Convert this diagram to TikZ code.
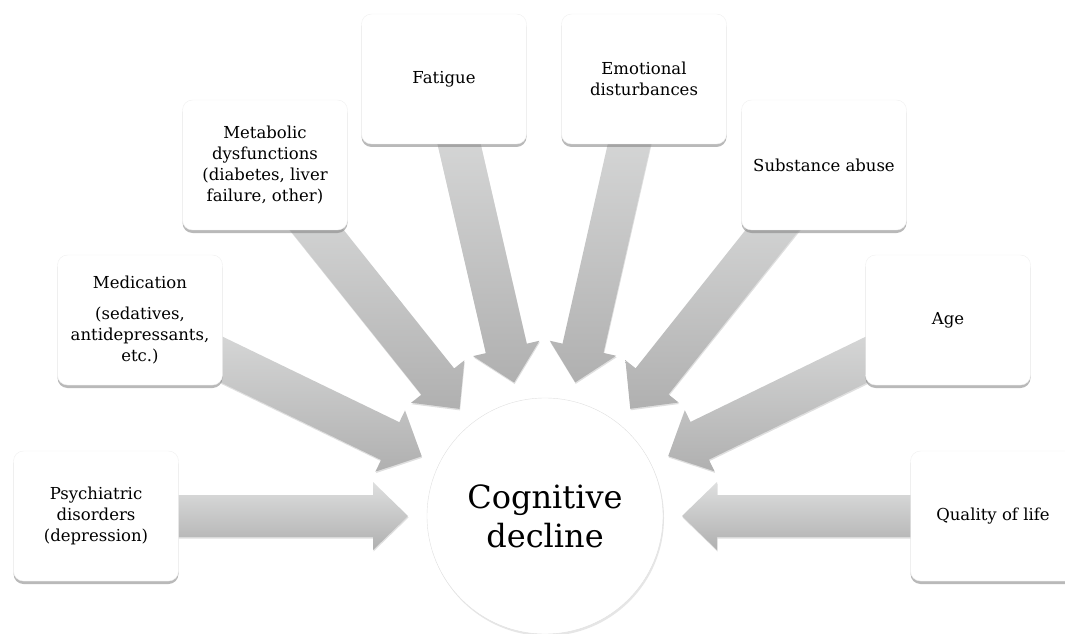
\documentclass[tikz,border=0pt]{standalone}
\usepackage{fontspec}
\setmainfont{DejaVu Serif}
\usetikzlibrary{calc,shadows,backgrounds}

\definecolor{pfeilhell}{RGB}{222,223,223}
\definecolor{pfeildunkel}{RGB}{176,176,176}

\begin{document}
\begin{tikzpicture}[x=1pt,y=1pt,
		kasten/.style={draw=black!6, fill=white, rounded corners=10pt,
			minimum width=165pt, minimum height=130pt, align=center,
			font=\fontsize{16.5}{21}\selectfont,
			drop shadow={shadow xshift=0pt, shadow yshift=-3pt, opacity=0.55}},
		kreis/.style={circle, draw=black!12, fill=white, minimum size=236pt,
			inner sep=0pt, align=center, font=\fontsize{32}{39}\selectfont,
			drop shadow={shadow xshift=1pt, shadow yshift=-2pt, opacity=0.2}},
		pfeil/.style={top color=pfeilhell, bottom color=pfeildunkel,
			drop shadow={shadow xshift=0.5pt, shadow yshift=-1.5pt, opacity=0.25}}]
			\useasboundingbox (0,0) rectangle (1065,633);
			% Kreis in der Mitte
			\node[kreis] (cog) at (545,117) {Cognitive\\decline};
			% Linke Kaesten
			\node[kasten] (psy) at (96,117) {Psychiatric\\disorders\\(depression)};
			\node[kasten] (med) at (140,313) {Medication\\[10pt](sedatives,\\antidepressants,\\etc.)};
			\node[kasten] (meta) at (265,468) {Metabolic\\dysfunctions\\(diabetes, liver\\failure, other)};
			\node[kasten] (fat) at (444,554) {Fatigue};
			% Rechte Kaesten
			\node[kasten] (emo) at (644,554) {Emotional\\disturbances};
			\node[kasten] (subst) at (824,468) {Substance abuse};
			\node[kasten] (age) at (948,313) {Age};
			\node[kasten] (qual) at (993,117) {Quality of life};
			% Pfeile zum Kreis
			\begin{scope}[on background layer]
				\foreach \q in {psy,med,meta,fat,emo,subst,age,qual} {
					\coordinate (t) at ($(cog)!137pt!(\q)$);
					\coordinate (h) at ($(t)!35pt!(\q)$);
					\path[pfeil] (t) -- ($(h)!34pt!90:(\q)$) -- ($(h)!21pt!90:(\q)$)
						-- ($(\q)!21pt!-90:(h)$) -- ($(\q)!21pt!90:(h)$)
						-- ($(h)!21pt!-90:(\q)$) -- ($(h)!34pt!-90:(\q)$) -- cycle;
				}
			\end{scope}
		\end{tikzpicture}
\end{document}
